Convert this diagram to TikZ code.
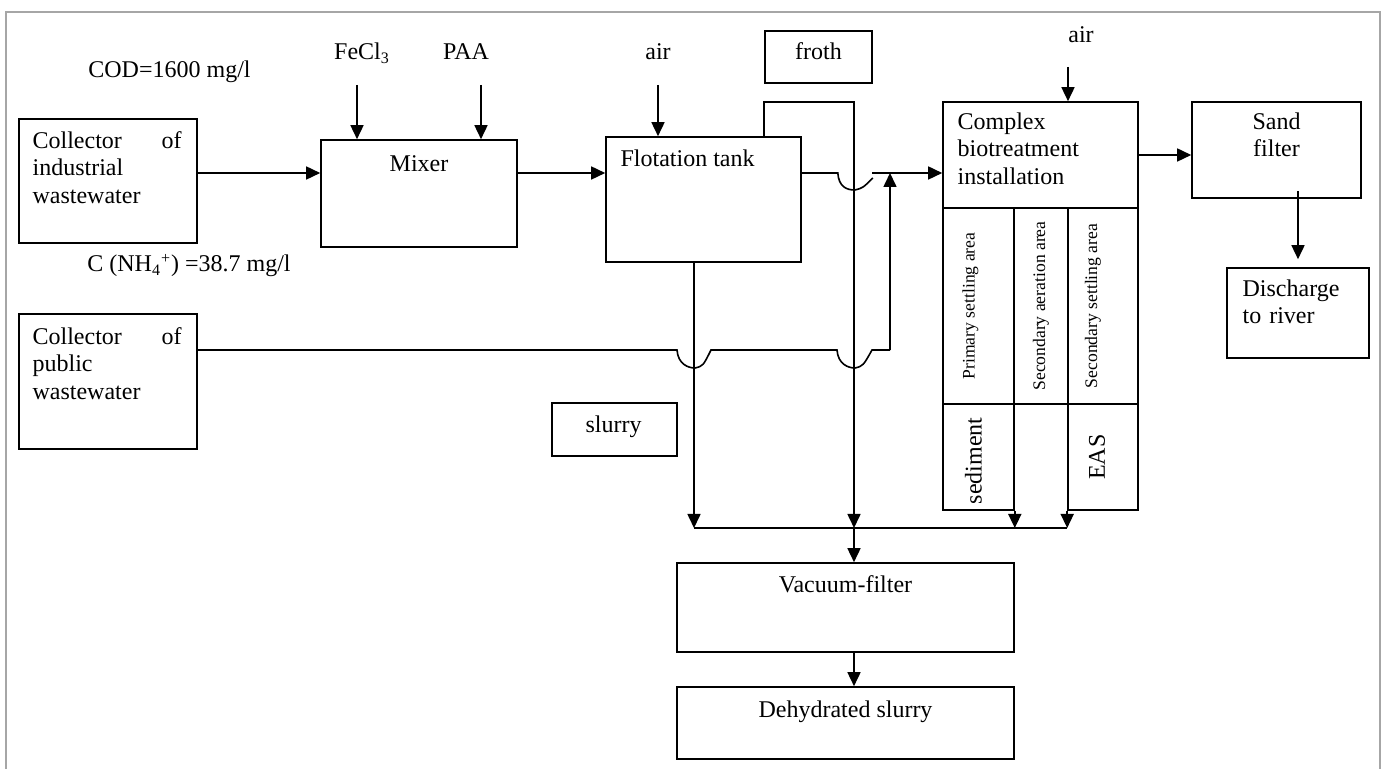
\documentclass[tikz,border=0pt]{standalone}
\usepackage{fontspec}
\setmainfont{Liberation Serif}
\usetikzlibrary{arrows.meta, positioning, fit, calc}

\begin{document}
\begin{tikzpicture}[
    x=0.5pt, y=-0.5pt,
    % Node styles
    unitbox/.style={
        rectangle,
        draw=black,
        line width=0.8pt,
        inner sep=0pt
    },
    boxtext/.style={
        font=\fontsize{12}{13.75}\selectfont,
        inner sep=0pt
    },
    areatext/.style={
        font=\fontsize{8.8}{10.5}\selectfont,
        rotate=90,
        inner sep=0pt
    },
    sidetext/.style={
        font=\fontsize{12}{13.75}\selectfont,
        rotate=90,
        inner sep=0pt
    },
    pipe/.style={
        line width=0.8pt
    },
    arrow/.style={
        -{Triangle[length=7pt, width=6.5pt]},
        line width=0.8pt
    }
]

\useasboundingbox (0,0) rectangle (1381,769);
\draw[gray!70, line width=0.6pt] (6,769) -- (6,12) -- (1380,12) -- (1380,769);

% === Collectors (Left) ===
\node[unitbox, fit={(19,119)(197,243)}] (indcol) {};
\node[boxtext, anchor=base west, text width=74.5pt, align=left] (indtext)
    at ($(indcol.north west)+(14,30)$) {Collector\hfill of\\industrial\\wastewater};
\node[unitbox, fit={(19,314)(197,449)}] (pubcol) {};
\node[boxtext, anchor=base west, text width=74.5pt, align=left] (pubtext)
    at ($(pubcol.north west)+(14,31)$) {Collector\hfill of\\public\\wastewater};

\node[boxtext, anchor=base west] (cod) at (88,78) {COD=1600 mg/l};
\node[boxtext, anchor=base west] (ammonium) at (87,272) {C (NH\textsubscript{4}\textsuperscript{+}) =38.7 mg/l};

% === Mixer and flotation ===
\node[unitbox, fit={(321,140)(517,247)}] (mixer) {};
\node[boxtext, anchor=base] (mixtext) at ($(mixer.north)+(0,32)$) {Mixer};
\node[boxtext, anchor=base] (fecl) at (362,60) {FeCl\textsubscript{3}};
\node[boxtext, anchor=base] (paa) at (466,60) {PAA};

\node[unitbox, fit={(606,137)(801,262)}] (flot) {};
\node[boxtext, anchor=base west] (flottext) at ($(flot.north west)+(15,30)$) {Flotation tank};
\node[boxtext, anchor=base] (airflot) at (658,60) {air};

\node[unitbox, fit={(765,31)(872,83)}] (froth) {};
\node[boxtext, anchor=base] (frothtext) at ($(froth.north)+(0,29)$) {froth};

\node[unitbox, fit={(552,403)(677,456)}] (slurry) {};
\node[boxtext, anchor=base] (slurrytext) at ($(slurry.north)+(-1,30)$) {slurry};

% === Complex biotreatment installation ===
\node[unitbox, fit={(943,102)(1138,208)}] (cbt) {};
\node[boxtext, anchor=base west, text width=85pt, align=left] (cbttext)
    at ($(cbt.north west)+(15,28)$) {Complex\\biotreatment\\installation};
\node[boxtext, anchor=base west] (aircbt) at (1068,43) {air};

\node[unitbox, fit={(943,208)(1014,404)}] (primset) {};
\node[unitbox, fit={(1014,208)(1068,404)}] (secaer) {};
\node[unitbox, fit={(1068,208)(1138,404)}] (secset) {};
\node[areatext] (primtext) at ([xshift=-4pt]primset.center) {Primary settling area};
\node[areatext] (aertext) at (secaer.center) {Secondary aeration area};
\node[areatext] (settext) at ([xshift=-5pt]secset.center) {Secondary settling area};

\node[unitbox, fit={(943,404)(1014,510)}] (sediment) {};
\node[unitbox, fit={(1068,404)(1138,510)}] (eas) {};
\node[sidetext] (sedtext) at ([xshift=-2.5pt, yshift=-2pt]sediment.center) {sediment};
\node[sidetext] (eastext) at ([xshift=-3pt]eas.center) {EAS};

% === Sand filter and river (Right) ===
\node[unitbox, fit={(1192,102)(1361,198)}] (sand) {};
\node[boxtext, anchor=base, text width=60pt, align=center] (sandtext)
    at ($(sand.north)+(0,28)$) {Sand\\filter};
\node[unitbox, fit={(1227,268)(1369,358)}] (river) {};
\node[boxtext, anchor=base west, text width=60pt, align=left] (rivertext)
    at ($(river.north west)+(16,29)$) {Discharge\\to river};

% === Slurry treatment (Bottom) ===
\node[unitbox, fit={(677,563)(1014,652)}] (vacuum) {};
\node[boxtext, anchor=base] (vactext) at ($(vacuum.north)+(0,30)$) {Vacuum-filter};
\node[unitbox, fit={(677,687)(1014,759)}] (dehyd) {};
\node[boxtext, anchor=base] (dehtext) at ($(dehyd.north)+(0,31)$) {Dehydrated slurry};

% === Junction points ===
\coordinate (main) at (0,173);
\coordinate (fecl in) at (357,85);
\coordinate (paa in) at (481,85);
\coordinate (airflot in) at (658,85);
\coordinate (aircbt in) at (1068,67);
\coordinate (flot drop) at (694,262);
\coordinate (froth drop) at (854,102);
\coordinate (rejoin) at (872,173);
\coordinate (rise) at (890,350);
\coordinate (coll) at (694,528);

% === Arrows: dosing and air ===
\draw[arrow] (fecl in) -- (fecl in |- mixer.north);
\draw[arrow] (paa in) -- (paa in |- mixer.north);
\draw[arrow] (airflot in) -- (airflot in |- flot.north);
\draw[arrow] (aircbt in) -- (aircbt in |- cbt.north);

% === Arrows: main water line ===
\draw[arrow] (indcol.east |- main) -- (mixer.west |- main);
\draw[arrow] (mixer.east |- main) -- (flot.west |- main);
\draw[pipe] (flot.east |- main) -- ++(36,0)
    .. controls +(1,14) and +(-8,0) .. ++(17,17)
    .. controls +(8,-2) .. ++(18,-12);
\draw[arrow] (rejoin) -- (cbt.west |- main);
\draw[pipe] (pubcol.east |- rise) -- (677,350)
    .. controls (678,364) and (688,368) .. (695,368)
    .. controls (703,366) .. (711,350)
    -- (837,350)
    .. controls (838,364) and (848,368) .. (855,368)
    .. controls (863,366) .. (872,350)
    -- (rise);
\draw[arrow] (rise) -- (rise |- main);
\draw[arrow] (cbt.east) -- (sand.west |- cbt.east);
\draw[arrow, shorten >=4pt] ([yshift=4pt]sand.south -| river.north) -- (river.north);

% === Arrows: slurry line ===
\draw[arrow] (froth.west |- flot.north) |- (froth drop) -- (froth drop |- coll);
\draw[arrow] (flot drop) -- (coll);
\draw[arrow] (sediment.south east) -- (sediment.south east |- coll);
\draw[arrow] (eas.south west) -- (eas.south west |- coll);
\draw[pipe] (coll) -- (eas.south west |- coll);
\draw[arrow] (froth drop |- coll) -- (froth drop |- vacuum.north);
\draw[arrow] (froth drop |- vacuum.south) -- (froth drop |- dehyd.north);

\end{tikzpicture}
\end{document}
